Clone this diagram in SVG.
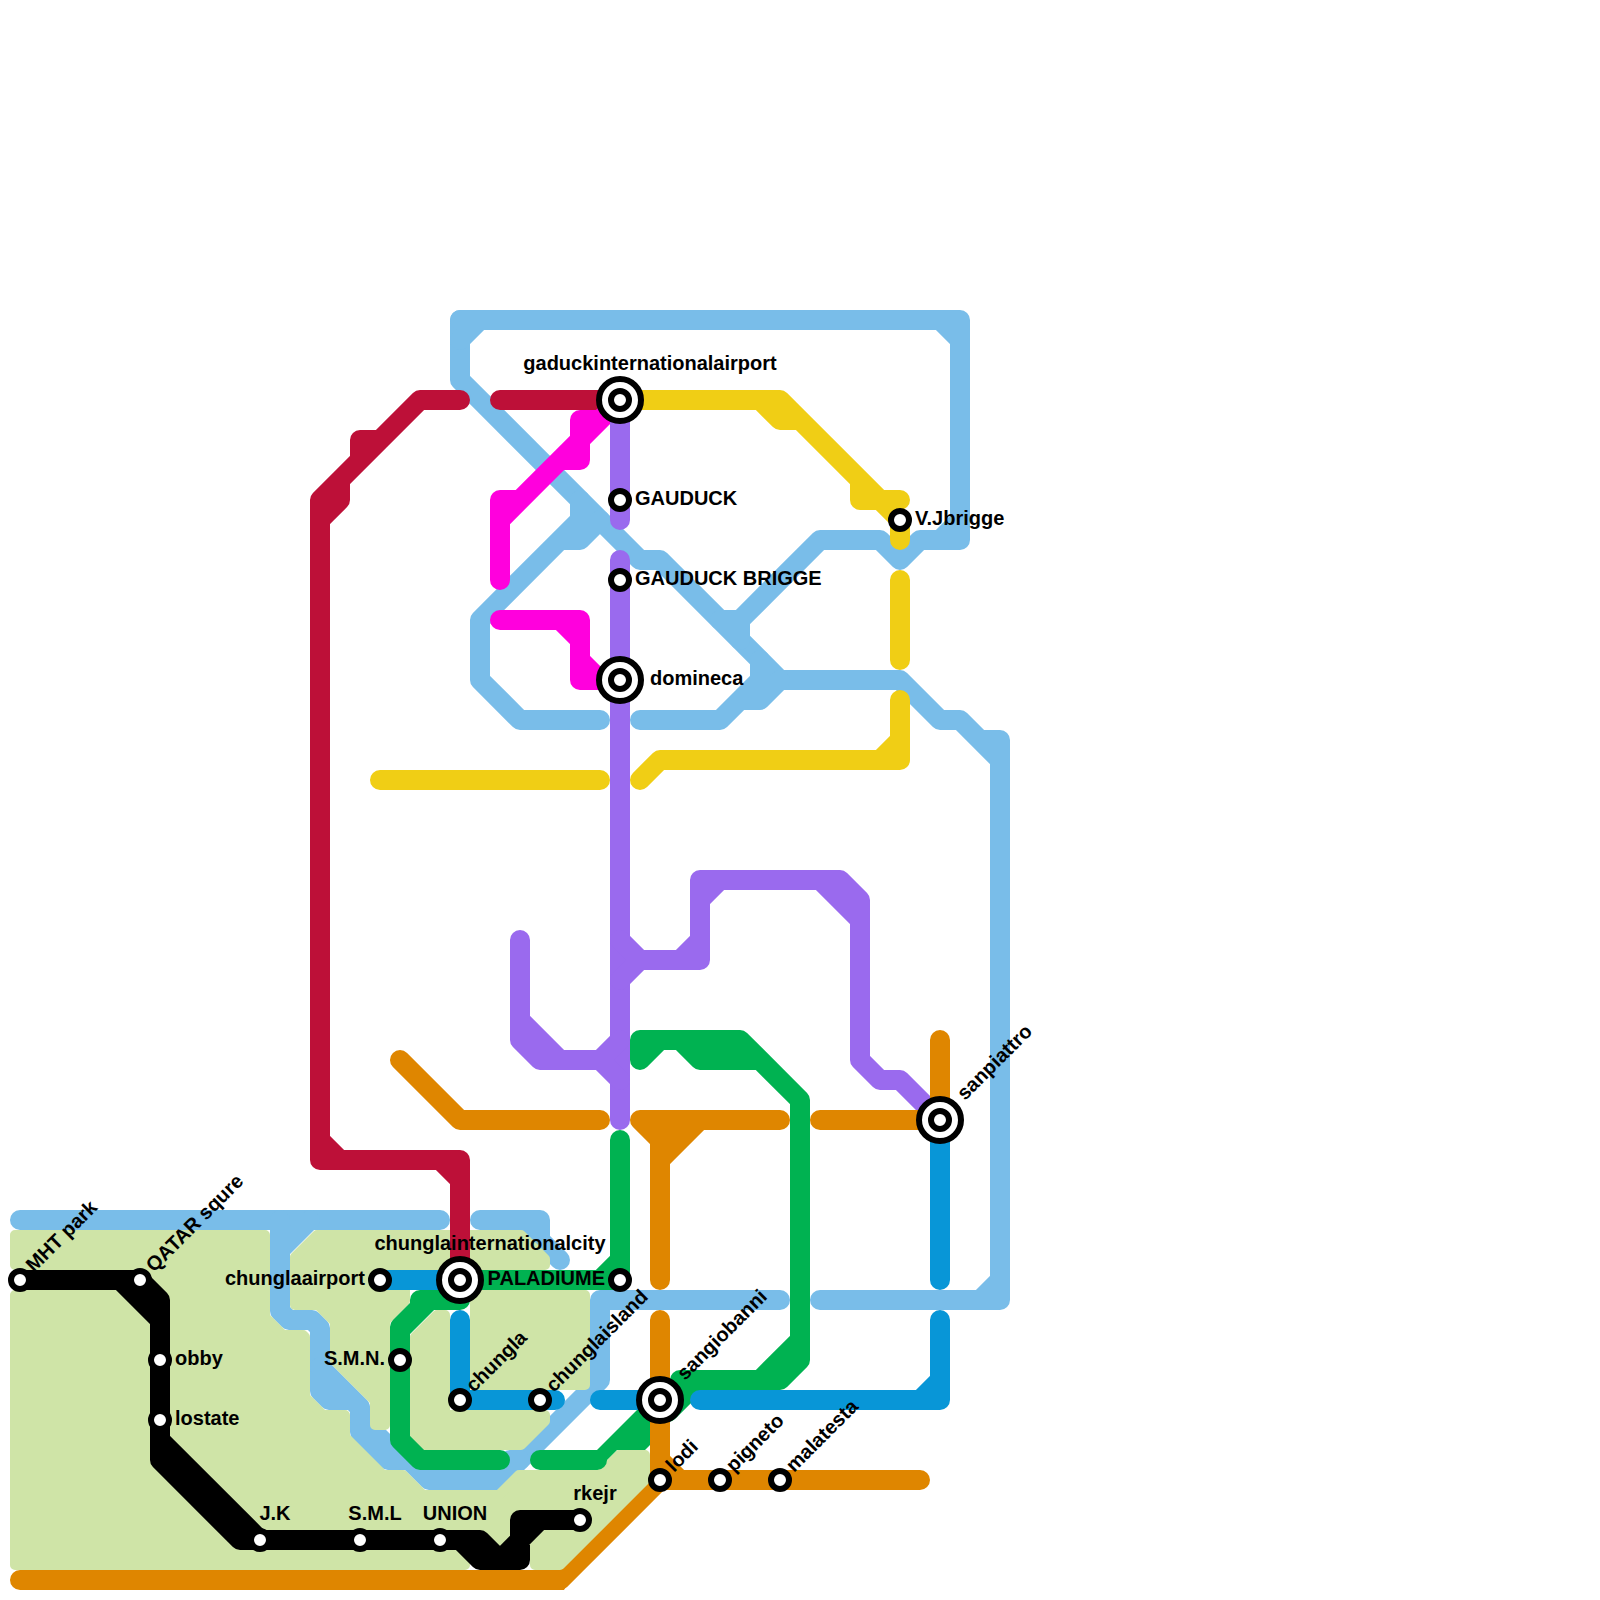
<svg xmlns="http://www.w3.org/2000/svg" width="1600" height="1600" viewBox="0 0 1600 1600">
<style>
.l{fill:none;stroke-width:20;stroke-linecap:round;stroke-linejoin:round}
.lb{stroke:#79bde9}.rd{stroke:#bd1038}.yl{stroke:#f0ce15}.or{stroke:#df8600}.gr{stroke:#00b251}.bl{stroke:#0896d7}.pu{stroke:#9a6aee}.mg{stroke:#ff00dd}.bk{stroke:#000}
.rg{fill:#cfe4a7;stroke:#cfe4a7;stroke-width:10;stroke-linejoin:round}
.st{fill:#fff;stroke:#000;stroke-width:6}
.x1{fill:#fff;stroke:#000;stroke-width:6}
text{font-family:"Liberation Sans",Arial,sans-serif;font-weight:bold;font-size:20px;fill:#000}
.m{text-anchor:middle}.e{text-anchor:end}
</style>
<g id="connectors">
<g id="line-lightblue" class="l lb">
<path d="M20 1220H440M480 1220H540V1240M520 1220L560 1260"/>
<path d="M280 1250L310 1220M280 1220V1311L289 1320H312L320 1328V1391L329 1400H352L360 1408V1432L388 1460H409L429 1480H500L520 1460L600 1380V1300H780"/>
<path d="M320 1367L360 1407M360 1418L402 1460M510 1460H520"/>
<path d="M460 320V380L640 560H660L780 680H900L940 720H960L1000 760M980 740H1000V1300H820M980 1300L1000 1280"/>
<path d="M460 340L480 320M460 320H960V540H920L900 560L880 540H820L740 620H720M740 620V640M940 320L960 340M940 540L960 520"/>
<path d="M580 500V540H560M580 540L600 520M580 520L480 620V680L520 720H600"/>
<path d="M640 720H720L760 680M720 720L740 700H760L780 680M760 660V700"/>
</g>
<g id="line-orange-lower" class="l or">
<path d="M20 1580H550M560 1580L660 1480"/>
<polygon style="fill:#df8600;stroke:none" points="545,1570 575,1570 564,1590 545,1590"/>
</g>
<g id="regions">
<polygon class="rg" points="15,1235 265,1235 265,1317 283,1335 303,1335 305,1337 305,1397 323,1415 345,1415 345,1437 383,1475 403,1475 423,1495 499,1495 519,1475 599,1475 619,1455 645,1455 645,1480 560,1565 535,1565 535,1545 465,1545 465,1565 15,1565 15,1295 25,1295 25,1265 15,1265"/>
<polygon class="rg" points="317,1235 521,1235 545,1259 545,1265 405,1265 405,1301 385,1321 385,1425 375,1425 375,1401 335,1361 335,1322 318,1305 295,1305 295,1257"/>
<polygon class="rg" points="415,1337 437,1315 445,1315 445,1415 545,1415 545,1421 521,1445 415,1445"/>
<polygon class="rg" points="475,1295 585,1295 585,1385 475,1385"/>
</g>
<g id="line-red" class="l rd">
<path d="M460 400H420L320 500V1160H460V1280M360 460V440H380M340 480V500L320 520M320 1140L340 1160M440 1160L460 1180M500 400H620"/>
</g>
<g id="line-yellow" class="l yl">
<path d="M620 400H780L900 520V540M760 400L780 420H800M860 480V500H900M900 580V660M900 700V760H660L640 780M880 760L900 740M380 780H600"/>
</g>
<g id="line-magenta" class="l mg">
<path d="M500 580V500H520M500 520L610 410M600 420H580V460H560"/>
<path d="M500 620H580V680H620M560 620L580 640M580 660L600 680"/>
</g>
<g id="line-purple" class="l pu">
<path d="M620 400V520M620 560V1120"/>
<path d="M520 940V1040L540 1060H600L620 1040M520 1020L560 1060M600 1060L620 1080"/>
<path d="M620 940L640 960L620 980M640 960H700V880H840L860 900V1060L880 1080H900L940 1120M680 960L700 940M700 900L720 880M820 880L860 920"/>
</g>
<g id="line-orange" class="l or">
<path d="M660 1480H920M660 1320V1480M660 1460L680 1480"/>
<path d="M640 1120H780M640 1120L660 1140M660 1120V1280M660 1160L700 1120M660 1140L680 1120"/>
<path d="M400 1060L460 1120H600M820 1120H940V1040"/>
</g>
<g id="line-green" class="l gr">
<path d="M460 1280H620V1140M600 1280L620 1260"/>
<path d="M460 1300H420V1307L400 1327V1440L420 1460H500M430 1300L400 1330"/>
<path d="M540 1460H597"/>
<path d="M668 1412L700 1380M680 1380H780L800 1360V1100L740 1040H640V1060L660 1040M680 1040L700 1060H760M760 1380L800 1340"/>
<polygon style="fill:#00b251;stroke:none" points="597,1450 640,1407 650,1407 650,1445 645,1450 617,1450 597,1470"/>
</g>
<g id="line-blue" class="l bl">
<path d="M380 1280H460M460 1320V1400H555M600 1400H660M700 1400H940V1320M920 1400L940 1380M940 1120V1280"/>
</g>
<g id="line-black" class="l bk">
<path d="M20 1280H140L160 1300V1460L240 1540M120 1280L160 1320M160 1440L260 1540M240 1540H480L500 1560M460 1540L480 1560H520V1520H580M500 1560L540 1520"/>
</g>
</g>
<g id="n-gaduck"><circle class="x1" cx="620" cy="400" r="21"/><circle class="st" cx="620" cy="400" r="9"/><text class="m" x="650" y="370">gaduckinternationalairport</text></g>
<g id="n-gauduck"><circle class="st" cx="620" cy="500" r="9"/><text x="635" y="505">GAUDUCK</text></g>
<g id="n-brigge"><circle class="st" cx="620" cy="580" r="9"/><text x="635" y="585">GAUDUCK BRIGGE</text></g>
<g id="n-domineca"><circle class="x1" cx="620" cy="680" r="21"/><circle class="st" cx="620" cy="680" r="9"/><text x="650" y="685">domineca</text></g>
<g id="n-vj"><circle class="st" cx="900" cy="520" r="9"/><text x="915" y="525">V.Jbrigge</text></g>
<g id="n-sanpiattro"><circle class="x1" cx="940" cy="1120" r="21"/><circle class="st" cx="940" cy="1120" r="9"/><text transform="translate(965 1101) rotate(-45)">sanpiattro</text></g>
<g id="n-paladiume"><circle class="st" cx="620" cy="1280" r="9"/><text class="e" x="605" y="1285">PALADIUME</text></g>
<g id="n-chunglaint"><circle class="x1" cx="460" cy="1280" r="21"/><circle class="st" cx="460" cy="1280" r="9"/><text class="m" x="490" y="1250">chunglainternationalcity</text></g>
<g id="n-airport"><circle class="st" cx="380" cy="1280" r="9"/><text class="e" x="365" y="1285">chunglaairport</text></g>
<g id="n-smn"><circle class="st" cx="400" cy="1360" r="9"/><text class="e" x="385" y="1365">S.M.N.</text></g>
<g id="n-chungla"><circle class="st" cx="460" cy="1400" r="9"/><text transform="translate(474 1393) rotate(-45)">chungla</text></g>
<g id="n-island"><circle class="st" cx="540" cy="1400" r="9"/><text transform="translate(554 1393) rotate(-45)">chunglaisland</text></g>
<g id="n-sangiobanni"><circle class="x1" cx="660" cy="1400" r="21"/><circle class="st" cx="660" cy="1400" r="9"/><text transform="translate(685 1381) rotate(-45)">sangiobanni</text></g>
<g id="n-lodi"><circle class="st" cx="660" cy="1480" r="9"/><text transform="translate(674 1473) rotate(-45)">lodi</text></g>
<g id="n-pigneto"><circle class="st" cx="720" cy="1480" r="9"/><text transform="translate(734 1473) rotate(-45)">pigneto</text></g>
<g id="n-malatesta"><circle class="st" cx="780" cy="1480" r="9"/><text transform="translate(794 1473) rotate(-45)">malatesta</text></g>
<g id="n-mht"><circle class="st" cx="20" cy="1280" r="9"/><text transform="translate(34 1273) rotate(-45)">MHT park</text></g>
<g id="n-qatar"><circle class="st" cx="140" cy="1280" r="9"/><text transform="translate(154 1273) rotate(-45)">QATAR squre</text></g>
<g id="n-obby"><circle class="st" cx="160" cy="1360" r="9"/><text x="175" y="1365">obby</text></g>
<g id="n-lostate"><circle class="st" cx="160" cy="1420" r="9"/><text x="175" y="1425">lostate</text></g>
<g id="n-jk"><circle class="st" cx="260" cy="1540" r="9"/><text class="m" x="275" y="1520">J.K</text></g>
<g id="n-sml"><circle class="st" cx="360" cy="1540" r="9"/><text class="m" x="375" y="1520">S.M.L</text></g>
<g id="n-union"><circle class="st" cx="440" cy="1540" r="9"/><text class="m" x="455" y="1520">UNION</text></g>
<g id="n-rkejr"><circle class="st" cx="580" cy="1520" r="9"/><text class="m" x="595" y="1500">rkejr</text></g>
</svg>
